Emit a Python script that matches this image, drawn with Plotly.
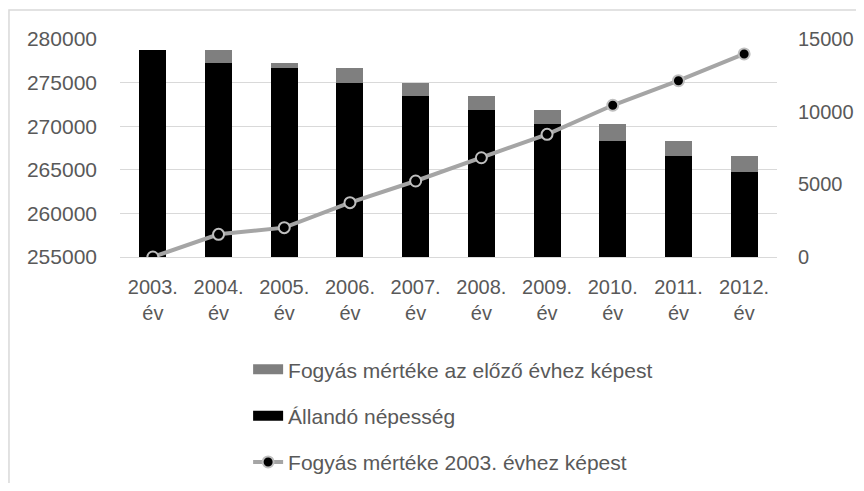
"""Állandó népesség és fogyás, 2003-2012."""

import plotly.graph_objects as go

YEARS = ["2003.", "2004.", "2005.", "2006.", "2007.", "2008.", "2009.", "2010.", "2011.", "2012."]
POPULATION = [278700, 277200, 276700, 275000, 273500, 271900, 270250, 268300, 266600, 264800]
DECREASE_PREV = [0, 1500, 500, 1700, 1500, 1600, 1650, 1950, 1700, 1800]
DECREASE_2003 = [0, 1560, 2020, 3740, 5230, 6830, 8440, 10440, 12130, 13970]

NAME_PREV = "Fogyás mértéke az előző évhez képest"
NAME_POP = "Állandó népesség"
NAME_2003 = "Fogyás mértéke 2003. évhez képest"

TEXT = "#595959"
GRID = "#d9d9d9"
FONT = "Liberation Sans, Arial, sans-serif"

labels = [f"{y}<br>év" for y in YEARS]

fig = go.Figure()

fig.add_trace(go.Bar(
    x=labels, y=POPULATION, name=NAME_POP,
    marker=dict(color="#000000", line=dict(width=0)),
    showlegend=False,
))
fig.add_trace(go.Bar(
    x=labels, y=DECREASE_PREV, name=NAME_PREV,
    marker=dict(color="#7f7f7f", line=dict(width=0)),
    showlegend=False,
))
fig.add_trace(go.Scatter(
    x=labels, y=DECREASE_2003, name=NAME_2003, yaxis="y2",
    mode="lines+markers",
    line=dict(color="#a5a5a5", width=4),
    marker=dict(color="#000000", size=11, line=dict(color="#bfbfbf", width=2)),
    legendgroup="c", legendrank=3,
))

# legend entries with wide rectangular keys like the original
fig.add_trace(go.Scatter(
    x=[None], y=[None], name=NAME_PREV, mode="lines",
    line=dict(color="#7f7f7f", width=13), legendgroup="a", legendrank=1,
))
fig.add_trace(go.Scatter(
    x=[None], y=[None], name=NAME_POP, mode="lines",
    line=dict(color="#000000", width=13), legendgroup="b", legendrank=2,
))

# the page body adds an 8px margin, so the figure is kept inside the window
fig.update_layout(
    width=856, height=475,
    paper_bgcolor="white", plot_bgcolor="white",
    font=dict(family=FONT, size=20, color=TEXT),
    margin=dict(l=112, r=87, t=31, b=226, autoexpand=False),
    barmode="stack", bargap=0.59,
    xaxis=dict(
        range=[-0.5, len(YEARS) - 0.5],
        showgrid=False, showline=True, linecolor=GRID, linewidth=1,
        ticks="", ticklabelstandoff=12, tickfont=dict(size=20),
        automargin=False,
    ),
    yaxis=dict(
        range=[255000, 280000], dtick=5000, showgrid=True, gridcolor=GRID,
        zeroline=False, ticks="", ticklabelstandoff=22, tickformat="d",
        tickfont=dict(size=21), automargin=False,
    ),
    yaxis2=dict(
        overlaying="y", side="right", range=[0, 15000], dtick=5000,
        showgrid=False, zeroline=False, ticks="", ticklabelstandoff=20,
        tickformat="d", tickfont=dict(size=20), automargin=False,
    ),
    legend=dict(
        x=0.195, y=-0.423, xanchor="left", yanchor="top",
        orientation="v", tracegroupgap=16, font=dict(size=21, color=TEXT),
        bgcolor="rgba(0,0,0,0)",
    ),
    shapes=[dict(
        type="rect", xref="paper", yref="paper",
        x0=-0.169, x1=1.3, y0=-1.3, y1=1.133,
        line=dict(color=GRID, width=1.5), layer="below",
    )],
)

fig.write_html("out.html")
